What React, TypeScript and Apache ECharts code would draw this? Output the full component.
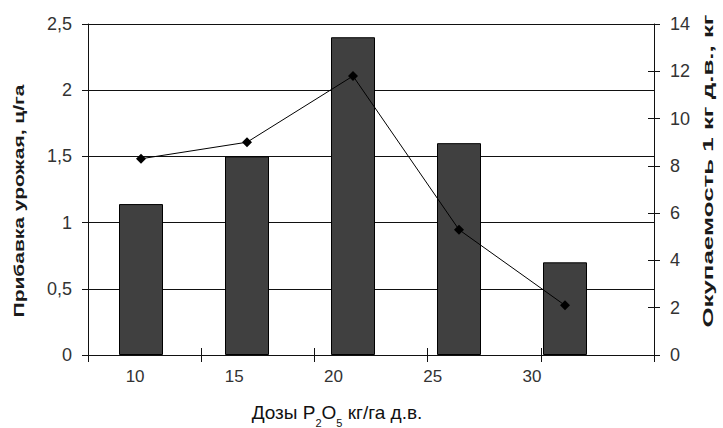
import React, { useEffect, useRef } from "react";
import * as echarts from "echarts";

const categories = ["10", "15", "20", "25", "30"];
const yieldIncrease = [1.14, 1.5, 2.4, 1.6, 0.7];
const payback = [8.3, 9.0, 11.8, 5.3, 2.1];
const leftAxisMax = 2.5;
const leftAxisInterval = 0.5;
const rightAxisMax = 14;
const rightAxisInterval = 2;

const FONT = '"Liberation Sans", Arial, sans-serif';

export default function App() {
  const ref = useRef<HTMLDivElement>(null);
  useEffect(() => {
    if (!ref.current) return;
    const chart = echarts.init(ref.current, null, { renderer: "svg" });
    const black = "#111";
    const hiddenValue = (gridIndex: number, position: string, max: number) => ({
      gridIndex,
      type: "value",
      position,
      min: 0,
      max,
      axisLine: { show: false },
      axisTick: { show: false },
      axisLabel: { show: false },
      splitLine: { show: false },
    });
    chart.setOption({
      animation: false,
      backgroundColor: "#fff",
      grid: [
        { left: 88, right: 69, top: 24, bottom: 73 },
        { left: 88, right: 105, top: 24, bottom: 73 },
        { left: 85.5, right: 141.5, top: 24, bottom: 73 },
      ],
      xAxis: [
        {
          gridIndex: 0,
          type: "category",
          data: categories,
          position: "bottom",
          axisLine: { show: true, lineStyle: { color: black, width: 1 } },
          axisTick: { show: true, interval: 0, length: 7, lineStyle: { color: black } },
          axisLabel: { show: false },
          splitLine: { show: false },
        },
        {
          gridIndex: 0,
          type: "category",
          data: categories,
          position: "bottom",
          axisLine: { show: false },
          axisTick: { show: true, inside: true, interval: 0, length: 7, lineStyle: { color: black } },
          axisLabel: { show: false },
          splitLine: { show: false },
        },
        {
          gridIndex: 1,
          type: "category",
          data: categories,
          position: "bottom",
          axisLine: { show: false },
          axisTick: { show: false },
          axisLabel: { show: false },
          splitLine: { show: false },
        },
        {
          gridIndex: 2,
          type: "category",
          data: categories,
          position: "bottom",
          axisLine: { show: false },
          axisTick: { show: false },
          axisLabel: { show: true, margin: 13, fontSize: 17, color: "#333", fontFamily: FONT },
          splitLine: { show: false },
        },
      ],
      yAxis: [
        {
          gridIndex: 0,
          type: "value",
          position: "left",
          min: 0,
          max: leftAxisMax,
          interval: leftAxisInterval,
          axisLine: { show: true, lineStyle: { color: black, width: 1 } },
          axisTick: { show: true, length: 6, lineStyle: { color: black } },
          axisLabel: {
            margin: 16,
            fontSize: 18,
            color: "#333",
            fontFamily: FONT,
            formatter: (v: number) => String(v).replace(".", ","),
          },
          splitLine: { show: true, lineStyle: { color: black, width: 1 } },
        },
        {
          gridIndex: 0,
          type: "value",
          position: "right",
          min: 0,
          max: rightAxisMax,
          interval: rightAxisInterval,
          axisLine: { show: true, lineStyle: { color: black, width: 1 } },
          axisTick: { show: true, length: 6, lineStyle: { color: black } },
          axisLabel: { margin: 16, fontSize: 18, color: "#333", fontFamily: FONT },
          splitLine: { show: false },
        },
        {
          gridIndex: 0,
          type: "value",
          position: "right",
          min: 0,
          max: rightAxisMax,
          interval: rightAxisInterval,
          axisLine: { show: false },
          axisTick: { show: true, inside: true, length: 6, lineStyle: { color: black } },
          axisLabel: { show: false },
          splitLine: { show: false },
        },
        hiddenValue(1, "left", leftAxisMax),
        hiddenValue(1, "right", rightAxisMax),
        hiddenValue(2, "left", leftAxisMax),
      ],
      series: [
        {
          name: "Прибавка урожая, ц/га",
          type: "bar",
          xAxisIndex: 2,
          yAxisIndex: 3,
          data: yieldIncrease,
          barWidth: 44,
          itemStyle: { color: "#404040", borderColor: "#000", borderWidth: 1 },
        },
        {
          name: "Окупаемость 1 кг д.в., кг",
          type: "line",
          xAxisIndex: 2,
          yAxisIndex: 4,
          data: payback,
          symbol: "diamond",
          symbolSize: 10,
          lineStyle: { color: "#000", width: 1 },
          itemStyle: { color: "#000" },
        },
      ],
      graphic: [
        {
          type: "text",
          x: 19,
          y: 201,
          rotation: Math.PI / 2,
          scaleX: 1.5,
          style: {
            text: "Прибавка урожая, ц/га",
            fontSize: 14,
            fontWeight: "bold",
            fontFamily: FONT,
            fill: "#1a1a1a",
            align: "center",
            verticalAlign: "middle",
          },
        },
        {
          type: "text",
          x: 708,
          y: 171,
          rotation: Math.PI / 2,
          scaleX: 1.85,
          style: {
            text: "Окупаемость 1 кг д.в., кг",
            fontSize: 14,
            fontWeight: "bold",
            fontFamily: FONT,
            fill: "#1a1a1a",
            align: "center",
            verticalAlign: "middle",
          },
        },
        {
          type: "text",
          x: 337,
          y: 412,
          style: {
            text: "{a|Дозы P}{s|2}{a|O}{s|5}{a| кг/га д.в.}",
            align: "center",
            verticalAlign: "middle",
            fill: "#111",
            rich: {
              a: { fontSize: 19, lineHeight: 32, fontFamily: FONT, fill: "#111", verticalAlign: "middle" },
              s: { fontSize: 11, lineHeight: 11, fontFamily: FONT, fill: "#111", verticalAlign: "bottom" },
            },
          },
        },
      ],
    });
    return () => chart.dispose();
  }, []);
  return (
    <div
      ref={ref}
      style={{ position: "fixed", left: 0, top: 0, width: 723, height: 428 }}
    />
  );
}
